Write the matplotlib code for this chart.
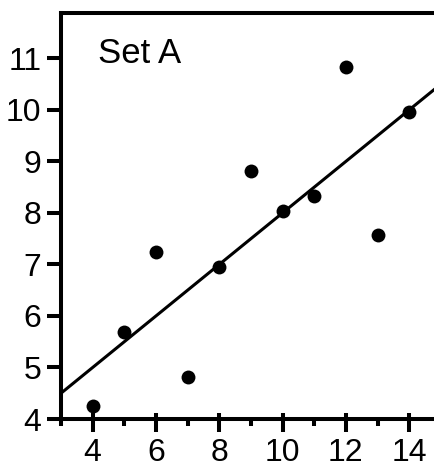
import matplotlib
matplotlib.use("Agg")
import matplotlib.pyplot as plt

# Data (Anscombe's quartet, Set A)
x_vals = [10, 8, 13, 9, 11, 14, 6, 4, 12, 7, 5]
y_vals = [8.04, 6.95, 7.58, 8.81, 8.33, 9.96, 7.24, 4.26, 10.84, 4.82, 5.68]
fit_intercept = 3.0
fit_slope = 0.5
x_ticks = [4, 6, 8, 10, 12, 14]
x_minor = [3, 5, 7, 9, 11, 13]
y_ticks = [4, 5, 6, 7, 8, 9, 10, 11]
title_text = "Set A"

plt.rcParams['font.family'] = ['Liberation Sans', 'DejaVu Sans']

W, H = 434, 469
fig = plt.figure(figsize=(W / 100, H / 100), dpi=100)
ax = fig.add_axes([61 / W, (H - 419) / H, (W - 61) / W + 0.01, (419 - 13) / H])

ax.scatter(x_vals, y_vals, s=100, color='black', zorder=3, linewidths=0)
ax.axline((0, fit_intercept), slope=fit_slope, color='black', lw=2.2, zorder=2)

ax.set_xlim(3, 14.92)
ax.set_ylim(4, 11.88)

lw = 2.9
for side in ['left', 'bottom', 'top']:
    ax.spines[side].set_linewidth(lw)
    ax.spines[side].set_color('black')
ax.spines['right'].set_visible(False)

ax.set_xticks(x_ticks)
ax.set_xticks(x_minor, minor=True)
ax.set_yticks(y_ticks)
ax.set_xticklabels([str(v) for v in x_ticks], fontsize=23)
ax.set_yticklabels([str(v) for v in y_ticks], fontsize=23)
ax.tick_params(axis='x', which='major', direction='out', length=9.5, width=lw, pad=4)
ax.tick_params(axis='x', which='minor', direction='out', length=5, width=lw)
ax.tick_params(axis='y', which='major', direction='out', length=10, width=lw, pad=4)
ax.tick_params(top=False, right=False)

sec = ax.secondary_xaxis('bottom')
sec.set_xticks(x_ticks)
sec.set_xticklabels([])
sec.tick_params(direction='in', length=4, width=lw)
sec.spines['bottom'].set_visible(False)

ax.text(0.097, 0.877, title_text, transform=ax.transAxes, fontsize=25,
        ha='left', va='baseline')

fig.savefig('out.png', dpi=100)
